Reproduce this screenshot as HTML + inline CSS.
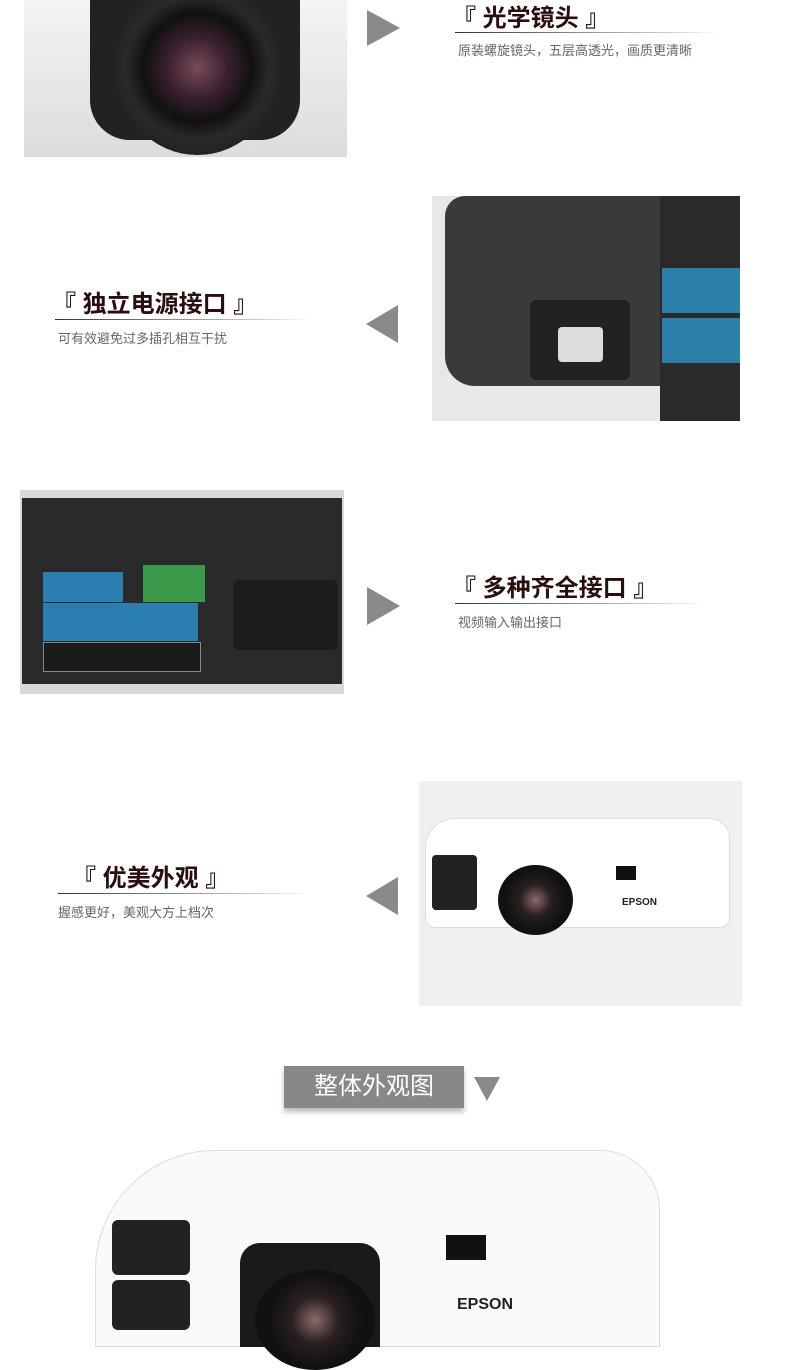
<!DOCTYPE html>
<html><head><meta charset="utf-8"><style>
*{margin:0;padding:0;box-sizing:border-box}
body{width:790px;height:1347px;background:#fff;position:relative;overflow:hidden;font-family:"Liberation Sans","Noto Sans CJK SC",sans-serif}
.a{position:absolute}
.t{position:absolute;font-size:24px;font-weight:bold;color:#2a0d0d;white-space:nowrap}
.s{position:absolute;font-size:13px;color:#666;white-space:nowrap}
.l{position:absolute;height:1px;background:linear-gradient(90deg,#333,#ccc 80%,#fff)}
.tr{position:absolute;width:0;height:0}
</style></head><body>
<!-- section1 -->
<div class="a" style="left:24px;top:0;width:323px;height:157px;background:linear-gradient(#f4f4f4,#dcdcdc)"></div>
<div class="a" style="left:90px;top:0;width:210px;height:140px;background:#222;border-radius:0 0 40px 40px"></div>
<div class="a" style="left:115px;top:-20px;width:165px;height:175px;border-radius:50%;background:radial-gradient(circle,#7a4a5a 0,#3a2030 25%,#111 45%,#2a2a2a 60%,#111 100%)"></div>
<div class="tr" style="left:367px;top:10px;border-left:33px solid #8a8a8a;border-top:18px solid transparent;border-bottom:18px solid transparent"></div>
<div class="t" style="left:452px;top:-2px">『 光学镜头 』</div>
<div class="l" style="left:455px;top:32px;width:265px"></div>
<div class="s" style="left:458px;top:40px">原装螺旋镜头，五层高透光，画质更清晰</div>
<!-- section2 -->
<div class="a" style="left:432px;top:196px;width:308px;height:225px;background:#e8e8e8"></div>
<div class="a" style="left:445px;top:196px;width:215px;height:190px;background:#3a3a3a;border-radius:20px 0 0 30px"></div>
<div class="a" style="left:530px;top:300px;width:100px;height:80px;background:#222;border-radius:6px"></div>
<div class="a" style="left:558px;top:327px;width:45px;height:35px;background:#ddd;border-radius:4px"></div>
<div class="a" style="left:660px;top:196px;width:80px;height:225px;background:#2a2a2a"></div>
<div class="a" style="left:662px;top:268px;width:78px;height:45px;background:#2b7fa8"></div>
<div class="a" style="left:662px;top:318px;width:78px;height:45px;background:#2b7fa8"></div>
<div class="tr" style="left:366px;top:305px;border-right:32px solid #8a8a8a;border-top:19px solid transparent;border-bottom:19px solid transparent"></div>
<div class="t" style="left:52px;top:284px">『 独立电源接口 』</div>
<div class="l" style="left:55px;top:319px;width:255px"></div>
<div class="s" style="left:58px;top:328px">可有效避免过多插孔相互干扰</div>
<!-- section3 -->
<div class="a" style="left:20px;top:490px;width:324px;height:204px;background:#d8d8d8"></div>
<div class="a" style="left:22px;top:498px;width:320px;height:186px;background:#2a2a2a"></div>
<div class="a" style="left:43px;top:572px;width:80px;height:30px;background:#2a7fb0"></div>
<div class="a" style="left:143px;top:565px;width:62px;height:37px;background:#3a9a4a"></div>
<div class="a" style="left:43px;top:603px;width:155px;height:38px;background:#2a7fb0"></div>
<div class="a" style="left:43px;top:642px;width:158px;height:30px;background:#1a1a1a;border:1px solid #888"></div>
<div class="a" style="left:233px;top:580px;width:105px;height:70px;background:#1c1c1c;border-radius:6px"></div>
<div class="tr" style="left:367px;top:587px;border-left:33px solid #8a8a8a;border-top:19px solid transparent;border-bottom:19px solid transparent"></div>
<div class="t" style="left:452px;top:568px">『 多种齐全接口 』</div>
<div class="l" style="left:455px;top:603px;width:250px"></div>
<div class="s" style="left:458px;top:612px">视频输入输出接口</div>
<!-- section4 -->
<div class="a" style="left:419px;top:781px;width:323px;height:225px;background:#f0f0f0"></div>
<div class="a" style="left:425px;top:818px;width:305px;height:110px;background:#fff;border:1px solid #ddd;border-radius:30px 20px 10px 10px"></div>
<div class="a" style="left:432px;top:855px;width:45px;height:55px;background:#222;border-radius:4px"></div>
<div class="a" style="left:498px;top:865px;width:75px;height:70px;border-radius:50%;background:radial-gradient(circle,#8a6a6a 0,#2a2020 30%,#111 60%)"></div>
<div class="a" style="left:616px;top:866px;width:20px;height:14px;background:#111"></div>
<div class="a" style="left:622px;top:897px;font-size:10px;font-weight:bold;color:#222">EPSON</div>
<div class="tr" style="left:366px;top:877px;border-right:32px solid #8a8a8a;border-top:19px solid transparent;border-bottom:19px solid transparent"></div>
<div class="t" style="left:72px;top:858px">『 优美外观 』</div>
<div class="l" style="left:58px;top:893px;width:252px"></div>
<div class="s" style="left:58px;top:902px">握感更好，美观大方上档次</div>
<!-- section5 -->
<div class="a" style="left:284px;top:1066px;width:180px;height:42px;background:#888;box-shadow:0 4px 5px #bbb;color:#fff;font-size:24px;text-align:center;line-height:42px">整体外观图</div>
<div class="tr" style="left:474px;top:1077px;border-top:24px solid #8a8a8a;border-left:13px solid transparent;border-right:13px solid transparent"></div>
<div class="a" style="left:95px;top:1150px;width:565px;height:197px;background:#fafafa;border:1px solid #ddd;border-radius:120px 60px 0 0"></div>
<div class="a" style="left:112px;top:1220px;width:78px;height:55px;background:#222;border-radius:6px"></div>
<div class="a" style="left:112px;top:1280px;width:78px;height:50px;background:#222;border-radius:6px"></div>
<div class="a" style="left:240px;top:1243px;width:140px;height:104px;background:#1a1a1a;border-radius:20px 20px 0 0"></div>
<div class="a" style="left:255px;top:1270px;width:120px;height:100px;border-radius:50%;background:radial-gradient(circle,#8a6a6a 0,#2a2020 30%,#111 60%)"></div>
<div class="a" style="left:446px;top:1235px;width:40px;height:25px;background:#111"></div>
<div class="a" style="left:457px;top:1296px;font-size:16px;font-weight:bold;color:#222">EPSON</div>
</body></html>
